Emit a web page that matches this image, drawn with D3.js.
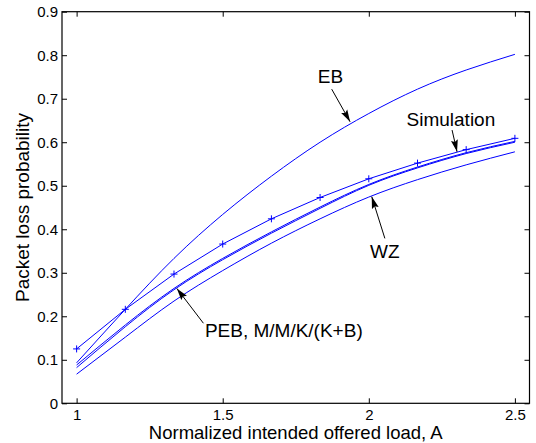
<!DOCTYPE html>
<html>
<head>
<meta charset="utf-8">
<script src="https://cdn.jsdelivr.net/npm/d3@7"></script>
<style>
  body { margin: 0; background: #fff; }
  svg { display: block; font-family: "Liberation Sans", Arial, Helvetica, sans-serif; }
</style>
</head>
<body>
<script>
const width = 536;
const height = 443;

// normalized intended offered load A (simulation points at 1/6 steps)
const loads = [1, 1.1667, 1.3333, 1.5, 1.6667, 1.8333, 2, 2.1667, 2.3333, 2.5];

// packet loss probability per model
const simulation = [0.125, 0.216, 0.297, 0.366, 0.424, 0.473, 0.516, 0.552, 0.583, 0.609];
const eb = [0.093, 0.216, 0.333, 0.434, 0.522, 0.600, 0.666, 0.722, 0.766, 0.802];
const peb = [0.088, 0.180, 0.264, 0.333, 0.394, 0.451, 0.503, 0.543, 0.576, 0.602];
const mmkkb = [0.082, 0.176, 0.261, 0.330, 0.391, 0.448, 0.501, 0.541, 0.574, 0.600];
const wz = [0.067, 0.152, 0.235, 0.305, 0.368, 0.424, 0.474, 0.514, 0.548, 0.578];

const xTicks = [1, 1.5, 2, 2.5];
const yTicks = [0, 0.1, 0.2, 0.3, 0.4, 0.5, 0.6, 0.7, 0.8, 0.9];

// labels with arrows, in data coordinates: text anchor point, arrow tail, arrow head
const notes = [
  {text: "EB", at: [1.869, 0.736], anchor: "middle", from: [1.873, 0.722], to: [1.936, 0.647]},
  {text: "Simulation", at: [2.281, 0.637], anchor: "middle", from: [2.285, 0.628], to: [2.302, 0.578]},
  {text: "WZ", at: [2.055, 0.334], anchor: "middle", from: [2.055, 0.379], to: [2.010, 0.475]},
  {text: "PEB, M/M/K/(K+B)", at: [1.439, 0.153], anchor: "start", from: [1.434, 0.184], to: [1.343, 0.264]}
];

const margin = {top: 11.7, right: 6.5, bottom: 39.7, left: 62};

const x = d3.scaleLinear()
.domain([0.95, 2.55])
.range([margin.left, width - margin.right]);

const y = d3.scaleLinear()
.domain([0, 0.9])
.range([height - margin.bottom, margin.top]);

const svg = d3.select("body").append("svg")
.attr("width", width)
.attr("height", height)
.attr("viewBox", [0, 0, width, height]);

svg.append("defs").append("marker")
.attr("id", "head")
.attr("viewBox", "0 -4 12 8")
.attr("refX", 12)
.attr("refY", 0)
.attr("markerUnits", "userSpaceOnUse")
.attr("markerWidth", 12)
.attr("markerHeight", 8)
.attr("orient", "auto")
.append("path")
.attr("d", "M0,-3.5L12,0L0,3.5L2,0Z")
.attr("fill", "#000");

const plotBottom = y(0);
const plotTop = y(0.9);
const plotLeft = x(0.95);
const plotRight = x(2.55);

// axes, ticks pointing inward on all four sides
svg.append("g")
.attr("transform", `translate(0,${plotBottom})`)
.call(d3.axisBottom(x).tickValues(xTicks).tickFormat(d3.format("")).tickSizeInner(-5).tickSizeOuter(0).tickPadding(6))
.call(g => g.select(".domain").remove());

svg.append("g")
.attr("transform", `translate(0,${plotTop})`)
.call(d3.axisTop(x).tickValues(xTicks).tickFormat("").tickSizeInner(-5).tickSizeOuter(0))
.call(g => g.select(".domain").remove());

svg.append("g")
.attr("transform", `translate(${plotLeft},0)`)
.call(d3.axisLeft(y).tickValues(yTicks).tickFormat(d => d === 0 ? "0" : d3.format(".1f")(d)).tickSizeInner(-5).tickSizeOuter(0).tickPadding(4))
.call(g => g.select(".domain").remove());

svg.append("g")
.attr("transform", `translate(${plotRight},0)`)
.call(d3.axisRight(y).tickValues(yTicks).tickFormat("").tickSizeInner(-5).tickSizeOuter(0))
.call(g => g.select(".domain").remove());

svg.selectAll(".tick text")
.attr("font-size", 15)
.attr("font-family", null)
.attr("fill", "#000");

svg.selectAll(".tick line")
.attr("stroke", "#000");

svg.append("rect")
.attr("x", plotLeft)
.attr("y", plotTop)
.attr("width", plotRight - plotLeft)
.attr("height", plotBottom - plotTop)
.attr("fill", "none")
.attr("stroke", "#000")
.attr("stroke-width", 1.2);

// curves: simulation joined point to point, the models drawn smooth
const line = d3.line()
.x((d, i) => x(loads[i]))
.y(d => y(d));

const smooth = d3.line()
.x((d, i) => x(loads[i]))
.y(d => y(d))
.curve(d3.curveNatural);

const curves = svg.append("g")
.attr("fill", "none")
.attr("stroke", "#0000ff")
.attr("stroke-width", 1);

curves.append("path")
.attr("d", line(simulation));

curves.selectAll(".model")
.data([eb, peb, mmkkb, wz])
.join("path")
.attr("class", "model")
.attr("d", smooth);

svg.append("g")
.attr("stroke", "#0000ff")
.attr("stroke-width", 1)
.selectAll("path")
.data(simulation)
.join("path")
.attr("d", (d, i) => `M${x(loads[i]) - 3.5},${y(d)}h7M${x(loads[i])},${y(d) - 3.5}v7`);

// annotations
svg.append("g")
.attr("stroke", "#000")
.attr("stroke-width", 1)
.selectAll("line")
.data(notes)
.join("line")
.attr("x1", d => x(d.from[0]))
.attr("y1", d => y(d.from[1]))
.attr("x2", d => x(d.to[0]))
.attr("y2", d => y(d.to[1]))
.attr("marker-end", "url(#head)");

svg.append("g")
.attr("font-size", 19)
.attr("fill", "#000")
.selectAll("text")
.data(notes)
.join("text")
.attr("x", d => x(d.at[0]))
.attr("y", d => y(d.at[1]))
.attr("text-anchor", d => d.anchor)
.text(d => d.text);

// axis titles
svg.append("text")
.attr("x", (plotLeft + plotRight) / 2)
.attr("y", 439)
.attr("text-anchor", "middle")
.attr("font-size", 18.5)
.text("Normalized intended offered load, A");

svg.append("text")
.attr("transform", `translate(29,${(plotTop + plotBottom) / 2}) rotate(-90)`)
.attr("text-anchor", "middle")
.attr("font-size", 19)
.text("Packet loss probability");
</script>
</body>
</html>
